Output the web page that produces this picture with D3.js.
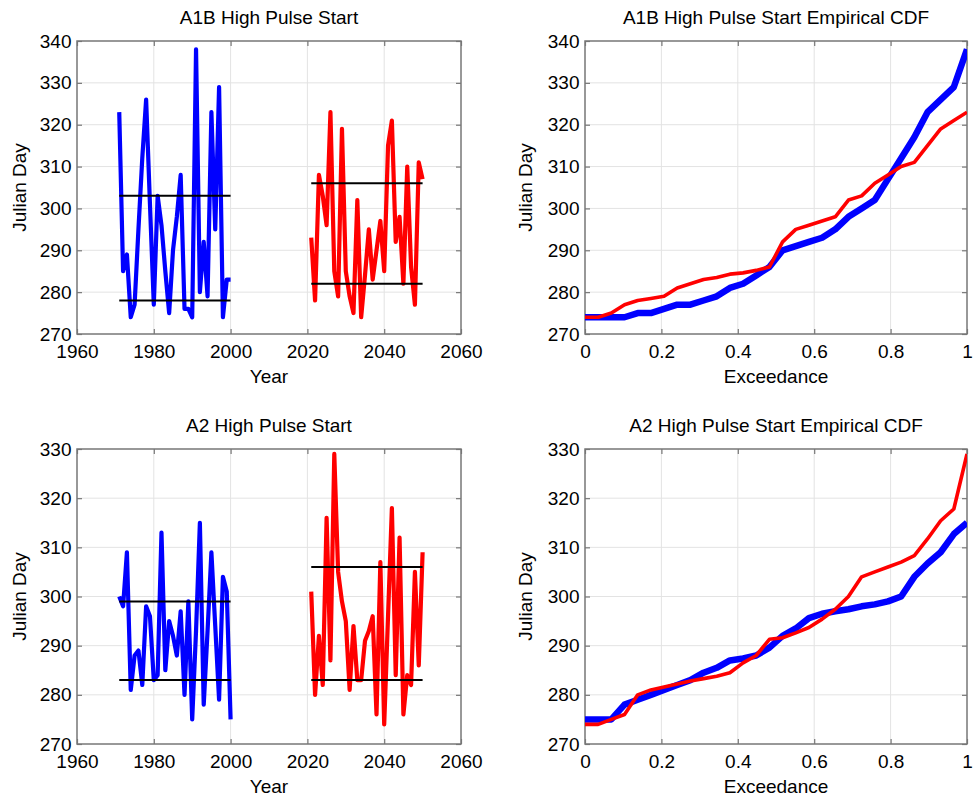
<!DOCTYPE html>
<html>
<head>
<meta charset="utf-8">
<script src="https://cdn.jsdelivr.net/npm/d3@7"></script>
<style>
  html, body { margin: 0; padding: 0; background: #fff; }
  svg { display: block; font-family: "Liberation Sans", Arial, sans-serif; }
</style>
</head>
<body>
<svg id="chart" width="973" height="799"></svg>
<script>
// ---------------- DATA ----------------
const yearsHist = [1971,1972,1973,1974,1975,1976,1977,1978,1979,1980,1981,1982,1983,1984,1985,
                   1986,1987,1988,1989,1990,1991,1992,1993,1994,1995,1996,1997,1998,1999,2000];
const yearsFut  = [2021,2022,2023,2024,2025,2026,2027,2028,2029,2030,2031,2032,2033,2034,2035,
                   2036,2037,2038,2039,2040,2041,2042,2043,2044,2045,2046,2047,2048,2049,2050];

const a1bHist = [323,285,289,274,277,295,312,326,301,277,303,296,285,275,290,
                 298,308,276,276,274,338,280,292,279,323,295,329,274,283,283];
const a1bFut  = [293,278,308,303,296,323,285,279,319,285,279,275,302,274,284,
                 295,283,290,297,285,315,321,292,298,282,310,286,277,311,307];
const a2Hist  = [300,298,309,281,288,289,282,298,296,283,284,313,285,295,292,
                 288,297,280,299,275,293,315,278,293,309,294,279,304,301,275];
const a2Fut   = [301,280,292,282,316,287,329,305,299,295,281,294,283,283,291,
                 293,296,276,307,274,296,318,284,312,276,284,282,305,286,309];

// horizontal reference levels [lower, upper]
const a1bHistLevels = [278, 303];
const a1bFutLevels  = [282, 306];
const a2HistLevels  = [283, 299];
const a2FutLevels   = [283, 306];

// empirical CDF curves (sorted values)
const ecdfA1BHist = [274,274,274,274,275,275,276,277,277,278,279,281,282,284,286,
                     290,291,292,293,295,298,300,302,307,312,317,323,326,329,338];
const ecdfA1BFut  = [274,274,275,277,278,278.5,279,281,282,283,283.5,284.3,284.6,285.2,286,
                     292,295,296,297,298,302,303,306,308,310,311,315,319,321,323];
const ecdfA2Hist  = [275,275,275,278,279,280,281,282,283,284.5,285.5,287,287.4,288,289.6,
                     292,293.5,295.6,296.5,297,297.4,298,298.4,299,300,304,306.7,309,312.7,315];
const ecdfA2Fut   = [274,274,275,276,280,281,281.6,282.2,282.8,283.3,283.8,284.5,286.5,288,291.3,
                     291.6,292.6,293.7,295.4,297.4,300,304,305,306,307,308.3,311.7,315.4,317.8,329];

const yearTicks = [1960,1980,2000,2020,2040,2060];
const excTicks  = [0,0.2,0.4,0.6,0.8,1];
const excLabels = ["0","0.2","0.4","0.6","0.8","1"];
const dayTicksTop = [270,280,290,300,310,320,330,340];
const dayTicksBot = [270,280,290,300,310,320,330];

const titles = ["A1B High Pulse Start","A1B High Pulse Start Empirical CDF",
                "A2 High Pulse Start","A2 High Pulse Start Empirical CDF"];

// ---------------- DRAW ----------------
const svg = d3.select("#chart");
const FS = 19;
const BLUE = "#0000ff", RED = "#ff0000";
const AXC = "#777777", GRID = "#e3e3e3";

function panel(id, box, xDomain, xTicks, xFmt, yDomain, yTicks, title, xLabel, yLabOff) {
  const x = d3.scaleLinear().domain(xDomain).range([box.l, box.r]);
  const y = d3.scaleLinear().domain(yDomain).range([box.b, box.t]);
  const g = svg.append("g");
  g.append("clipPath").attr("id", "clip" + id).append("rect")
    .attr("x", box.l).attr("y", box.t).attr("width", box.r - box.l).attr("height", box.b - box.t);
  // grid
  g.append("g").selectAll("line").data(xTicks.slice(1, -1)).join("line")
    .attr("x1", d => x(d)).attr("x2", d => x(d)).attr("y1", box.t).attr("y2", box.b)
    .attr("stroke", GRID).attr("stroke-width", 1);
  g.append("g").selectAll("line").data(yTicks.slice(1, -1)).join("line")
    .attr("y1", d => y(d)).attr("y2", d => y(d)).attr("x1", box.l).attr("x2", box.r)
    .attr("stroke", GRID).attr("stroke-width", 1);
  // axes (ticks inward)
  const ax = [
    g.append("g").attr("transform", `translate(0,${box.b})`)
      .call(d3.axisBottom(x).tickValues(xTicks).tickFormat(xFmt).tickSize(-5).tickPadding(10.5)),
    g.append("g").attr("transform", `translate(0,${box.t})`)
      .call(d3.axisTop(x).tickValues(xTicks).tickFormat("").tickSize(-5)),
    g.append("g").attr("transform", `translate(${box.l},0)`)
      .call(d3.axisLeft(y).tickValues(yTicks).tickFormat(d3.format("d")).tickSize(-5).tickPadding(5.5)),
    g.append("g").attr("transform", `translate(${box.r},0)`)
      .call(d3.axisRight(y).tickValues(yTicks).tickFormat("").tickSize(-5))
  ];
  ax.forEach(a => {
    a.select(".domain").remove();
    a.selectAll("line").attr("stroke", AXC).attr("stroke-width", 1.2);
    a.selectAll("text").attr("fill", "#000").style("font-size", FS + "px")
      .style("font-family", '"Liberation Sans", Arial, sans-serif');
  });
  g.append("rect").attr("x", box.l).attr("y", box.t)
    .attr("width", box.r - box.l).attr("height", box.b - box.t)
    .attr("fill", "none").attr("stroke", AXC).attr("stroke-width", 1.5);
  // labels
  g.append("text").attr("x", (box.l + box.r) / 2).attr("y", box.t - 17)
    .attr("text-anchor", "middle").style("font-size", FS + "px").text(title);
  g.append("text").attr("x", (box.l + box.r) / 2).attr("y", box.b + 49)
    .attr("text-anchor", "middle").style("font-size", FS + "px").text(xLabel);
  g.append("text").attr("transform", `translate(${box.l - yLabOff},${(box.t + box.b) / 2}) rotate(-90)`)
    .attr("text-anchor", "middle").style("font-size", FS + "px").text("Julian Day");
  const plot = g.append("g").attr("clip-path", `url(#clip${id})`);
  return {x, y, plot};
}

function series(p, xs, ys, color, w) {
  const line = d3.line().x((d, i) => p.x(xs[i])).y(d => p.y(d));
  p.plot.append("path").datum(ys).attr("d", line)
    .attr("fill", "none").attr("stroke", color).attr("stroke-width", w)
    .attr("stroke-linejoin", "round").attr("stroke-linecap", "butt");
}
function hline(p, x0, x1, v) {
  p.plot.append("line").attr("x1", p.x(x0)).attr("x2", p.x(x1))
    .attr("y1", p.y(v)).attr("y2", p.y(v))
    .attr("stroke", "#000").attr("stroke-width", 2);
}
function ecdf(p, vals, color, w) {
  const n = vals.length;
  const line = d3.line().x((d, i) => p.x(i / (n - 1))).y(d => p.y(d));
  p.plot.append("path").datum(vals).attr("d", line)
    .attr("fill", "none").attr("stroke", color).attr("stroke-width", w)
    .attr("stroke-linejoin", "round");
}

const excFmt = (d, i) => excLabels[i];

const boxes = [
  {l: 77,  r: 461, t: 41,  b: 334},
  {l: 585, r: 967, t: 41,  b: 334},
  {l: 77,  r: 461, t: 449, b: 744},
  {l: 585, r: 967, t: 449, b: 744}
];

// Panel 1
const p1 = panel(1, boxes[0], [1960, 2060], yearTicks, d3.format("d"), [270, 340], dayTicksTop, titles[0], "Year", 51);
series(p1, yearsHist, a1bHist, BLUE, 4.2);
series(p1, yearsFut, a1bFut, RED, 4.2);
a1bHistLevels.forEach(v => hline(p1, yearsHist[0], yearsHist[yearsHist.length - 1], v));
a1bFutLevels.forEach(v => hline(p1, yearsFut[0], yearsFut[yearsFut.length - 1], v));

// Panel 2
const p2 = panel(2, boxes[1], [0, 1], excTicks, excFmt, [270, 340], dayTicksTop, titles[1], "Exceedance", 53);
ecdf(p2, ecdfA1BHist, BLUE, 6.5);
ecdf(p2, ecdfA1BFut, RED, 3.6);

// Panel 3
const p3 = panel(3, boxes[2], [1960, 2060], yearTicks, d3.format("d"), [270, 330], dayTicksBot, titles[2], "Year", 51);
series(p3, yearsHist, a2Hist, BLUE, 4.2);
series(p3, yearsFut, a2Fut, RED, 4.2);
a2HistLevels.forEach(v => hline(p3, yearsHist[0], yearsHist[yearsHist.length - 1], v));
a2FutLevels.forEach(v => hline(p3, yearsFut[0], yearsFut[yearsFut.length - 1], v));

// Panel 4
const p4 = panel(4, boxes[3], [0, 1], excTicks, excFmt, [270, 330], dayTicksBot, titles[3], "Exceedance", 53);
ecdf(p4, ecdfA2Hist, BLUE, 6.5);
ecdf(p4, ecdfA2Fut, RED, 3.6);
</script>
</body>
</html>
